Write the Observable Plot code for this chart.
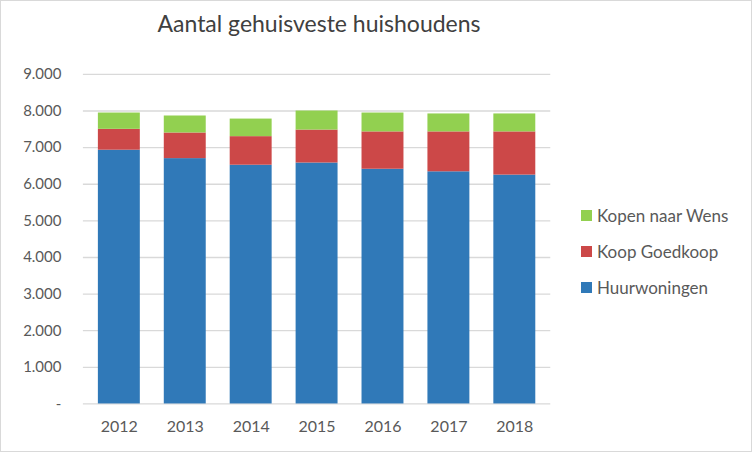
<!DOCTYPE html>
<html><head><meta charset="utf-8">
<script src="https://cdn.jsdelivr.net/npm/d3@7"></script>
<script src="https://cdn.jsdelivr.net/npm/@observablehq/plot@0.6"></script>
<style>
html,body{margin:0;padding:0;background:#fff;}
#wrap{position:relative;width:752px;height:452px;box-sizing:border-box;border:1px solid #d9d9d9;overflow:hidden;font-family:"Lato","Open Sans",sans-serif;}
#title{position:absolute;left:0;top:8px;width:636px;text-align:center;font-size:23px;color:#404040;}
#legend{position:absolute;left:580px;top:196px;font-size:17px;color:#595959;}
.li{height:36px;display:flex;align-items:center;}
.sw{width:11px;height:11px;margin-right:5px;}
#chart{position:absolute;left:-1px;top:-1px;}
</style></head>
<body><div id="wrap"><div id="title">Aantal gehuisveste huishoudens</div><div id="chart"></div><div id="legend"></div></div>
<script>
const years = ["2012","2013","2014","2015","2016","2017","2018"];
const huurwoningen = [6930, 6700, 6520, 6580, 6410, 6340, 6250];
const koopGoedkoop = [570, 700, 780, 900, 1020, 1090, 1180];
const kopenNaarWens = [445, 464, 480, 520, 515, 490, 490];
const series = ["Huurwoningen", "Koop Goedkoop", "Kopen naar Wens"];
const colors = ["#3079b8", "#cc4848", "#92d050"];
const yTicks = [0,1000,2000,3000,4000,5000,6000,7000,8000,9000];

const values = [huurwoningen, koopGoedkoop, kopenNaarWens];
const data = [];
series.forEach((s, i) => years.forEach((y, j) => data.push({year: y, series: s, value: values[i][j]})));

const fmt = d => d === 0 ? "-" : d3.format(",")(d).replace(/,/g, ".");

const chart = Plot.plot({
  width: 752, height: 452,
  marginLeft: 83, marginRight: 201, marginTop: 74, marginBottom: 48,
  style: {fontFamily: "Lato, 'Open Sans', sans-serif", fontSize: "15px", color: "#595959", background: "transparent"},
  x: {domain: years, paddingInner: 0.36, paddingOuter: 0.19, label: null, tickSize: 0, tickPadding: 17},
  y: {domain: [0, 9000], ticks: yTicks, tickFormat: fmt, label: null, tickSize: 0, tickPadding: 22},
  color: {domain: series, range: colors},
  marks: [
    Plot.ruleY(yTicks, {stroke: "#d9d9d9", strokeWidth: 1.3}),
    Plot.barY(data, Plot.stackY({x: "year", y: "value", fill: "series", order: series})),
    Plot.axisX({tickSize: 0, tickPadding: 17, fontSize: 16, label: null}),
    Plot.axisY({ticks: yTicks, tickFormat: fmt, tickSize: 0, tickPadding: 22, fontSize: 15, label: null})
  ]
});
document.getElementById("chart").appendChild(chart);

const leg = document.getElementById("legend");
[2,1,0].forEach(i => {
  const d = document.createElement("div"); d.className = "li";
  d.innerHTML = `<div class="sw" style="background:${colors[i]}"></div><span>${series[i]}</span>`;
  leg.appendChild(d);
});
</script></body></html>
